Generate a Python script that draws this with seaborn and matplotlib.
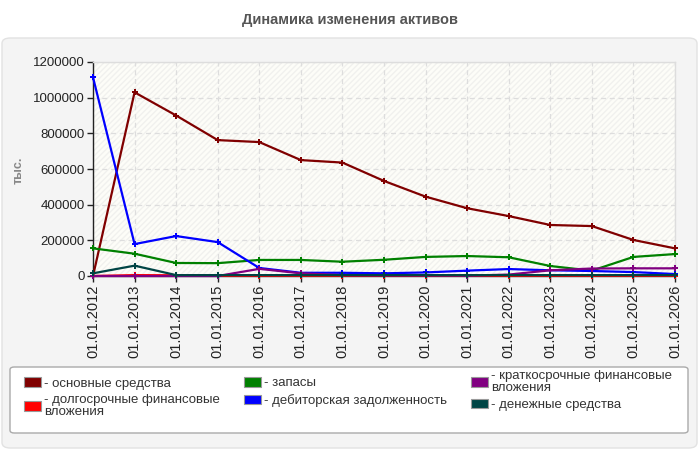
import matplotlib
matplotlib.use("Agg")
import matplotlib.pyplot as plt
import seaborn as sns
import pandas as pd
from matplotlib.patches import FancyBboxPatch, Rectangle, Patch

dates = ["01.01.2012", "01.01.2013", "01.01.2014", "01.01.2015", "01.01.2016",
         "01.01.2017", "01.01.2018", "01.01.2019", "01.01.2020", "01.01.2021",
         "01.01.2022", "01.01.2023", "01.01.2024", "01.01.2025", "01.01.2026"]

fixed_assets = [0, 1030000, 900000, 762000, 751000, 650000, 636000, 533000,
                445000, 380000, 336000, 286000, 280000, 202000, 155000]
lt_investments = [0, 5000, 4000, 1000, 1000, 1000, 1000, 1000, 1000, 1000,
                  1000, 1000, 1000, 1000, 1000]
inventories = [155000, 125000, 73000, 72000, 90000, 90000, 80000, 91000,
               107000, 112000, 105000, 56000, 30000, 107000, 123000]
receivables = [1114000, 179000, 224000, 190000, 45000, 18000, 18000, 15000,
               20000, 30000, 39000, 32000, 28000, 22000, 11000]
st_investments = [0, 0, 0, 0, 40000, 15000, 5000, 3000, 3000, 2000, 8000,
                  32000, 42000, 43000, 43000]
cash = [15000, 58000, 5000, 5000, 5000, 5000, 5000, 5000, 5000, 5000, 5000,
        5000, 5000, 5000, 5000]

series_names = ["основные средства", "долгосрочные финансовые\nвложения",
                "запасы", "дебиторская задолженность",
                "краткосрочные финансовые\nвложения", "денежные средства"]
series_values = [fixed_assets, lt_investments, inventories, receivables,
                 st_investments, cash]
colors = ["#800000", "#ff0000", "#008000", "#0000ff", "#800080", "#004444"]

rows = []
for name, vals in zip(series_names, series_values):
    for i, (d, v) in enumerate(zip(dates, vals)):
        rows.append({"idx": i, "date": d, "value": v, "series": name})
df = pd.DataFrame(rows)

sns.set_theme(style="white")
plt.rcParams["font.family"] = ["Liberation Sans", "DejaVu Sans"]

fig = plt.figure(figsize=(7, 4.5), dpi=100)
fig.patch.set_facecolor("white")

# outer gray panel
panel = FancyBboxPatch((2 / 700, 2 / 450), 695 / 700, 410 / 450,
                       boxstyle="round,pad=0,rounding_size=0.012",
                       transform=fig.transFigure, facecolor="#f4f4f4",
                       edgecolor="#e2e2e2", linewidth=1, zorder=-10)
fig.patches.append(panel)
# legend frame
legframe = FancyBboxPatch((10 / 700, 1 - 433 / 450), 678 / 700, 66 / 450,
                          boxstyle="round,pad=0,rounding_size=0.006",
                          transform=fig.transFigure, facecolor="white",
                          edgecolor="#aaaaaa", linewidth=1, zorder=-5)
fig.patches.append(legframe)

fig.text(0.5, 1 - 20 / 450, "Динамика изменения активов", ha="center",
         va="center", fontsize=10.5, fontweight="bold", color="#555555")
fig.text(19 / 700, 1 - 170 / 450, "тыс.", rotation=90, ha="center",
         va="center", fontsize=9, fontweight="bold", color="#888888")

ax = fig.add_axes([93 / 700, 1 - 276 / 450, 582 / 700, 214 / 450])
ax.set_zorder(5)
ax.set_facecolor("#fdfdf8")
ax.add_patch(Rectangle((0, 0), 1, 1, transform=ax.transAxes, facecolor="none",
                       edgecolor="#f1f1ee", hatch="//////", linewidth=0,
                       zorder=0))

sns.lineplot(data=df, x="idx", y="value", hue="series", palette=colors,
             hue_order=series_names, marker="P", markersize=4.5,
             markeredgewidth=0, linewidth=1.6, legend=False, ax=ax,
             clip_on=False, zorder=3)

ax.set_xlim(0, len(dates) - 1)
ax.set_ylim(0, 1200000)
ax.set_xticks(range(len(dates)))
ax.set_xticklabels(dates, rotation=90, fontsize=10.5, color="#222222")
yt = list(range(0, 1200001, 200000))
ax.set_yticks(yt)
ax.set_yticklabels([str(v) for v in yt], fontsize=9.5, color="#222222")
ax.set_xlabel("")
ax.set_ylabel("")
ax.grid(True, color="#dddddd", linestyle=(0, (4, 3)), linewidth=0.9)
ax.set_axisbelow(True)
for s in ["top", "right"]:
    ax.spines[s].set_color("#dddddd")
    ax.spines[s].set_linewidth(1)
for s in ["left", "bottom"]:
    ax.spines[s].set_color("#222222")
    ax.spines[s].set_linewidth(1)
ax.tick_params(axis="both", which="both", length=4, width=1, color="#222222",
               direction="out", bottom=True, left=True, pad=2)

handles = [Patch(facecolor=c, edgecolor="#999999", linewidth=0.8) for c in colors]
labels = ["- " + n for n in series_names]
leg = fig.legend(handles, labels, loc="upper left", ncol=3,
                 bbox_to_anchor=(24 / 700, 1 - 426 / 450, 648 / 700, 56 / 450),
                 mode="expand", fontsize=9.5, frameon=False,
                 borderaxespad=0, handlelength=1.3, handleheight=0.7,
                 handletextpad=0.2, labelspacing=0.35, borderpad=0,
                 labelcolor="#333333")
for t in leg.get_texts():
    t.set_linespacing(1.0)

fig.savefig("out.png", dpi=100, facecolor="white")
